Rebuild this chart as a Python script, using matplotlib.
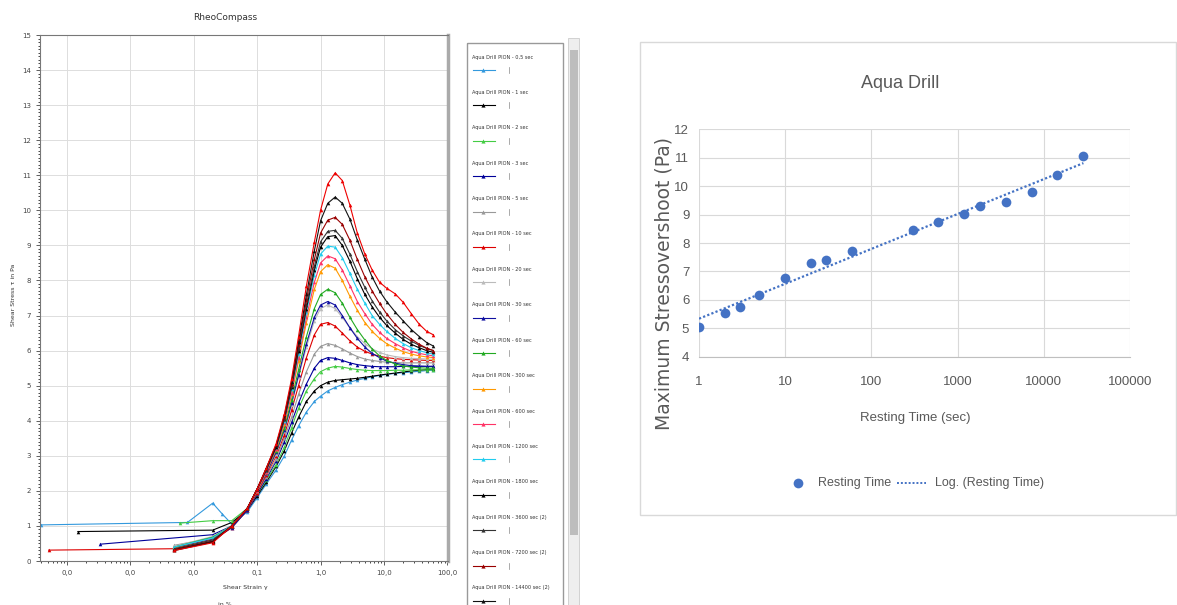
import numpy as np
import matplotlib
matplotlib.use('Agg')
import matplotlib.pyplot as plt
from matplotlib.patches import Rectangle
from matplotlib.lines import Line2D
from matplotlib.ticker import MultipleLocator, FixedLocator, NullFormatter

# ---- left panel: RheoCompass strain sweeps (shear strain in %, stress in Pa)
strain = [0.04, 0.07, 0.1, 0.14, 0.2, 0.27, 0.35, 0.45, 0.6, 0.8, 1.0, 1.3, 1.7,
          2.2, 2.9, 3.8, 5.0, 6.5, 8.5, 11, 15, 20, 27, 36, 47, 60]

curve_labels = ['0,5 sec', '1 sec', '2 sec', '3 sec', '5 sec', '10 sec', '20 sec',
                '30 sec', '60 sec', '300 sec', '600 sec', '1200 sec', '1800 sec',
                '3600 sec (2)', '7200 sec (2)', '14400 sec (2)', '28800 sec (2)']
curve_colors = ['#3399dd', '#000000', '#44cc44', '#000099', '#999999', '#dd0000',
                '#bbbbbb', '#1010a0', '#22aa22', '#ff9900', '#ff3366', '#22ccee',
                '#000000', '#333333', '#990000', '#111111', '#ee0000']

low_strain = [[4e-5, 0.008, 0.02, 0.028], [1.5e-4, 0.02], [0.006, 0.02], [3.4e-4, 0.02],
              [0.005, 0.02], [5.2e-5, 0.005, 0.02], [0.005, 0.02], [0.005, 0.02],
              [0.005, 0.02], [0.005, 0.02], [0.005, 0.02], [0.005, 0.02], [0.005, 0.02],
              [0.005, 0.02], [0.005, 0.02], [0.005, 0.02], [0.005, 0.02]]
low_stress = [[1.03, 1.1, 1.65, 1.35], [0.84, 0.88], [1.08, 1.15], [0.48, 0.75],
              [0.45, 0.65], [0.31, 0.35, 0.58], [0.42, 0.7], [0.38, 0.62],
              [0.4, 0.68], [0.36, 0.6], [0.34, 0.58], [0.4, 0.66], [0.33, 0.56],
              [0.35, 0.6], [0.32, 0.55], [0.3, 0.54], [0.3, 0.52]]

stress = [
    [1.05, 1.4, 1.8, 2.2, 2.6, 3.0, 3.45, 3.85, 4.25, 4.55, 4.7, 4.85, 4.95, 5.03, 5.1, 5.16, 5.21, 5.25, 5.29, 5.32, 5.35, 5.37, 5.39, 5.41, 5.43, 5.44],
    [1.1, 1.45, 1.85, 2.25, 2.7, 3.15, 3.65, 4.1, 4.55, 4.85, 5.0, 5.1, 5.15, 5.17, 5.19, 5.21, 5.24, 5.27, 5.3, 5.33, 5.36, 5.39, 5.42, 5.44, 5.46, 5.47],
    [1.15, 1.5, 1.9, 2.3, 2.75, 3.25, 3.8, 4.35, 4.85, 5.2, 5.4, 5.5, 5.55, 5.53, 5.49, 5.46, 5.44, 5.43, 5.43, 5.43, 5.44, 5.44, 5.45, 5.45, 5.45, 5.45],
    [1.0, 1.45, 1.9, 2.35, 2.85, 3.4, 3.95, 4.5, 5.05, 5.5, 5.72, 5.8, 5.78, 5.72, 5.65, 5.6, 5.57, 5.55, 5.54, 5.54, 5.54, 5.55, 5.55, 5.55, 5.55, 5.55],
    [1.0, 1.45, 1.95, 2.4, 2.9, 3.5, 4.1, 4.75, 5.4, 5.9, 6.12, 6.2, 6.15, 6.05, 5.93, 5.83, 5.76, 5.72, 5.69, 5.67, 5.66, 5.65, 5.65, 5.65, 5.65, 5.65],
    [0.95, 1.45, 1.95, 2.45, 3.0, 3.6, 4.3, 5.0, 5.8, 6.45, 6.75, 6.8, 6.7, 6.5, 6.28, 6.1, 5.98, 5.9, 5.84, 5.8, 5.77, 5.75, 5.74, 5.73, 5.72, 5.72],
    [1.0, 1.5, 2.0, 2.5, 3.05, 3.7, 4.45, 5.25, 6.1, 6.85, 7.2, 7.3, 7.2, 6.95, 6.65, 6.4, 6.2, 6.05, 5.95, 5.88, 5.83, 5.8, 5.78, 5.77, 5.76, 5.75],
    [0.95, 1.45, 2.0, 2.5, 3.1, 3.75, 4.5, 5.3, 6.2, 6.95, 7.3, 7.4, 7.3, 7.0, 6.65, 6.35, 6.1, 5.92, 5.8, 5.7, 5.64, 5.6, 5.57, 5.56, 5.55, 5.55],
    [1.0, 1.5, 2.0, 2.55, 3.15, 3.8, 4.6, 5.45, 6.4, 7.2, 7.6, 7.75, 7.65, 7.35, 6.95, 6.6, 6.3, 6.05, 5.85, 5.72, 5.62, 5.56, 5.53, 5.51, 5.5, 5.5],
    [1.0, 1.5, 2.0, 2.55, 3.2, 3.9, 4.75, 5.7, 6.8, 7.75, 8.25, 8.45, 8.35, 8.0, 7.55, 7.15, 6.8, 6.55, 6.35, 6.2, 6.07, 5.97, 5.9, 5.85, 5.82, 5.8],
    [1.0, 1.5, 2.0, 2.55, 3.2, 3.95, 4.8, 5.8, 6.95, 7.95, 8.5, 8.7, 8.62, 8.3, 7.85, 7.4, 7.05, 6.75, 6.52, 6.35, 6.2, 6.08, 5.98, 5.92, 5.88, 5.85],
    [1.0, 1.5, 2.05, 2.6, 3.25, 4.0, 4.9, 5.9, 7.1, 8.15, 8.75, 8.98, 8.95, 8.65, 8.2, 7.75, 7.35, 7.0, 6.75, 6.55, 6.35, 6.2, 6.08, 6.0, 5.94, 5.9],
    [1.0, 1.5, 2.05, 2.6, 3.25, 4.05, 4.95, 6.0, 7.2, 8.3, 8.95, 9.25, 9.28, 9.0, 8.55, 8.05, 7.6, 7.25, 6.95, 6.72, 6.5, 6.32, 6.18, 6.08, 6.0, 5.95],
    [1.0, 1.5, 2.05, 2.6, 3.3, 4.05, 5.0, 6.05, 7.3, 8.4, 9.1, 9.4, 9.43, 9.2, 8.75, 8.25, 7.8, 7.42, 7.1, 6.85, 6.6, 6.42, 6.27, 6.15, 6.06, 6.0],
    [1.0, 1.5, 2.05, 2.65, 3.3, 4.1, 5.05, 6.15, 7.45, 8.6, 9.35, 9.72, 9.8, 9.6, 9.15, 8.6, 8.1, 7.7, 7.35, 7.05, 6.75, 6.52, 6.33, 6.18, 6.07, 6.0],
    [1.0, 1.5, 2.05, 2.65, 3.3, 4.15, 5.1, 6.25, 7.6, 8.85, 9.7, 10.2, 10.38, 10.2, 9.75, 9.15, 8.6, 8.1, 7.7, 7.4, 7.1, 6.85, 6.6, 6.4, 6.23, 6.13],
    [1.0, 1.5, 2.05, 2.65, 3.35, 4.2, 5.2, 6.4, 7.85, 9.1, 10.0, 10.75, 11.07, 10.85, 10.15, 9.35, 8.75, 8.3, 7.95, 7.78, 7.62, 7.38, 7.05, 6.75, 6.55, 6.45],
]

strain_ticks = [1e-4, 1e-3, 1e-2, 1e-1, 1, 10, 100]
strain_tick_labels = ['0,0', '0,0', '0,0', '0,1', '1,0', '10,0', '100,0']

# ---- right panel: maximum stress overshoot vs resting time
rest_time = [1, 2, 3, 5, 10, 20, 30, 60, 300, 600, 1200, 1800, 3600, 7200, 14400, 28800]
overshoot = [5.06, 5.53, 5.76, 6.17, 6.76, 7.31, 7.40, 7.73, 8.46, 8.73, 9.01, 9.31,
             9.43, 9.81, 10.39, 11.07]

W, H = 1177, 605
fig = plt.figure(figsize=(W / 100, H / 100), dpi=100)


def fx(px):
    return px / W


def fy(py):
    return 1 - py / H


# left chart
ax1 = fig.add_axes([fx(40), fy(561), fx(448) - fx(40), fy(35) - fy(561)])
for i in range(len(stress)):
    ax1.plot(low_strain[i] + strain, low_stress[i] + stress[i], color=curve_colors[i],
             lw=0.8, marker='^', ms=2.6, mew=0)
ax1.set_xscale('log')
ax1.set_xlim(3.8e-5, 102)
ax1.set_ylim(0, 15)
ax1.xaxis.set_major_locator(FixedLocator(strain_ticks))
ax1.set_xticklabels(strain_tick_labels)
ax1.xaxis.set_minor_formatter(NullFormatter())
ax1.yaxis.set_major_locator(MultipleLocator(1))
ax1.yaxis.set_minor_locator(MultipleLocator(0.1))
ax1.tick_params(labelsize=5, colors='#444444', length=3, width=0.6)
ax1.tick_params(which='minor', length=1.5, width=0.5)
ax1.grid(True, color='#dddddd', lw=0.7)
for s in ['top', 'left', 'bottom']:
    ax1.spines[s].set_color('#777777')
    ax1.spines[s].set_linewidth(0.8)
ax1.spines['right'].set_color('#aaaaaa')
ax1.spines['right'].set_linewidth(2.5)
fig.text(fx(225), fy(17), 'RheoCompass', ha='center', va='center', fontsize=6.5, color='#333333')
fig.text(fx(14), fy(295), 'Shear Stress \u03c4 in Pa', rotation=90, ha='center', va='center',
         fontsize=4.5, color='#333333')
fig.text(fx(245), fy(588), 'Shear Strain \u03b3', ha='center', va='center', fontsize=4.5, color='#333333')
fig.text(fx(225), fy(604), 'in %', ha='center', va='center', fontsize=4.5, color='#333333')

# legend list with scrollbar
lax = fig.add_axes([fx(462), 0, fx(585) - fx(462), 1])
lax.set_xlim(462, 585)
lax.set_ylim(H, 0)
lax.axis('off')
lax.add_patch(Rectangle((467, 43), 96, 570, fill=False, ec='#999999', lw=1))
lax.add_patch(Rectangle((568, 38), 11, 570, fc='#eeeeee', ec='#cccccc', lw=0.6))
lax.add_patch(Rectangle((569.5, 50), 8, 485, fc='#bdbdbd', ec='none'))
for i in range(16):
    y0 = 57 + 35.4 * i
    lax.text(472, y0, 'Aqua Drill PION - ' + curve_labels[i], fontsize=3.6,
             va='center', ha='left', color='#333333')
    lax.plot([473, 495], [y0 + 13, y0 + 13], color=curve_colors[i], lw=0.8)
    lax.plot([483], [y0 + 13], color=curve_colors[i], marker='^', ms=3, mew=0)
    lax.plot([509, 509], [y0 + 10, y0 + 16], color='#888888', lw=0.5)

# right chart frame
fig.add_artist(Rectangle((fx(640), fy(515)), fx(1176) - fx(640), fy(42) - fy(515),
                         transform=fig.transFigure, fill=False, ec='#d9d9d9', lw=1))

font2 = ['Liberation Sans', 'DejaVu Sans']
ax2 = fig.add_axes([fx(699), fy(356.7), fx(1130) - fx(699), fy(129.3) - fy(356.7)])
a, b = np.polyfit(np.log(rest_time), overshoot, 1)
t_fit = np.geomspace(rest_time[0], rest_time[-1], 200)
ax2.plot(t_fit, a * np.log(t_fit) + b, ls=(0, (1, 1)), color='#4472c4', lw=1.6)
ax2.plot(rest_time, overshoot, 'o', color='#4472c4', ms=7, mew=0)
ax2.set_xscale('log')
ax2.set_xlim(1, 100000)
ax2.set_ylim(4, 12)
ax2.xaxis.set_major_locator(FixedLocator([1, 10, 100, 1000, 10000, 100000]))
ax2.set_xticklabels(['1', '10', '100', '1000', '10000', '100000'], family=font2)
ax2.xaxis.set_minor_locator(FixedLocator([]))
ax2.yaxis.set_major_locator(MultipleLocator(1))
for lab in ax2.get_yticklabels():
    lab.set_family(font2)
ax2.tick_params(length=0, labelsize=9.5, colors='#595959', pad=14)
ax2.tick_params(axis='y', pad=7)
ax2.grid(True, color='#d9d9d9', lw=0.8)
for s in ['top', 'right', 'left']:
    ax2.spines[s].set_visible(False)
ax2.spines['bottom'].set_color('#bfbfbf')
ax2.set_axisbelow(True)

fig.text(fx(900), fy(83), 'Aqua Drill', ha='center', va='center', fontsize=13,
         family=font2, color='#595959')
fig.text(fx(915), fy(418), 'Resting Time (sec)', ha='center', va='center', fontsize=9.5,
         family=font2, color='#595959')
fig.text(fx(664), fy(283), 'Maximum Stressovershoot (Pa)', rotation=90, ha='center',
         va='center', fontsize=13.5, color='#595959')

# right legend
fig.add_artist(Line2D([fx(798)], [fy(483)], marker='o', ms=7, mew=0, color='#4472c4',
                      transform=fig.transFigure))
fig.text(fx(818), fy(483), 'Resting Time', ha='left', va='center', fontsize=9,
         family=font2, color='#595959')
fig.add_artist(Line2D([fx(897), fx(926)], [fy(483), fy(483)], ls=(0, (1, 1)), lw=1.4,
                      color='#4472c4', transform=fig.transFigure))
fig.text(fx(935), fy(483), 'Log. (Resting Time)', ha='left', va='center', fontsize=9,
         family=font2, color='#595959')

fig.savefig('out.png', dpi=100)
